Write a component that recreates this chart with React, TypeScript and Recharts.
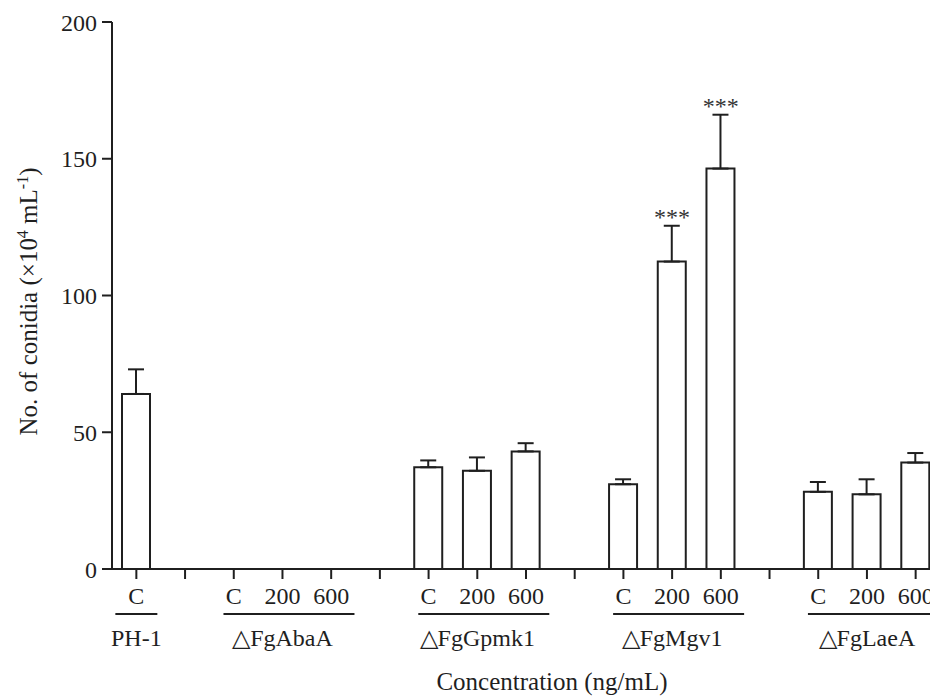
import React from 'react'
import { ComposedChart, Bar, Line, XAxis, YAxis, ErrorBar, Label } from 'recharts'

const categories = ['C', '', 'C', '200', '600', '', 'C', '200', '600', '', 'C', '200', '600', '', 'C', '200', '600']
const conidia = [64, 0, 0, 0, 0, 0, 37.2, 35.9, 43, 0, 31, 112.4, 146.4, 0, 28.2, 27.3, 38.9]
const sem = [9, 0, 0, 0, 0, 0, 2.5, 4.9, 3, 0, 1.8, 13.1, 19.7, 0, 3.6, 5.5, 3.5]
const significance = ['', '', '', '', '', '', '', '', '', '', '', '***', '***', '', '', '', '']
const groups = [
  { label: 'PH-1', first: 0, last: 0 },
  { label: '△FgAbaA', first: 2, last: 4 },
  { label: '△FgGpmk1', first: 6, last: 8 },
  { label: '△FgMgv1', first: 10, last: 12 },
  { label: '△FgLaeA', first: 14, last: 16 },
]
const yTicks = [0, 50, 100, 150, 200]

const FONT = '"Liberation Serif", "Times New Roman", serif'
const INK = '#1f1f1f'

const rows = categories.map((c, i) => ({
  id: i,
  label: c,
  value: conidia[i],
  err: [0, sem[i]],
  star: significance[i] ? conidia[i] + sem[i] : null,
}))

function CategoryTick(props: any) {
  const { x, y, index } = props
  const group = groups.find(g => Math.round((g.first + g.last) / 2) === index)
  const single = group && group.first === group.last
  return (
    <g>
      <text x={x} y={y + 25} textAnchor="middle" fontSize={24} fontFamily={FONT} fill={INK}>
        {categories[index]}
      </text>
      {group && (
        <>
          <line
            x1={x - (single ? 21 : 59)}
            x2={x + (single ? 21 : 72)}
            y1={y + 35}
            y2={y + 35}
            stroke={INK}
            strokeWidth={2}
          />
          <text x={x} y={y + 67} textAnchor="middle" fontSize={24} fontFamily={FONT} fill={INK}>
            {group.label}
          </text>
        </>
      )}
    </g>
  )
}

function YTitle(props: any) {
  const vb = props.viewBox
  const cx = 37
  const cy = vb.y + vb.height / 2 + 6
  return (
    <text
      x={cx}
      y={cy}
      transform={`rotate(-90, ${cx}, ${cy})`}
      textAnchor="middle"
      fontSize={25}
      fontFamily={FONT}
      fill={INK}
    >
      No. of conidia (×10
      <tspan dy={-9} fontSize={16}>4</tspan>
      <tspan dy={9}> mL</tspan>
      <tspan dy={-9} fontSize={16}>-1</tspan>
      <tspan dy={9}>)</tspan>
    </text>
  )
}

function XTitle(props: any) {
  const vb = props.viewBox
  return (
    <text x={552} y={vb.y + 121} textAnchor="middle" fontSize={25} fontFamily={FONT} fill={INK}>
      Concentration (ng/mL)
    </text>
  )
}

function Stars(props: any) {
  const { x, y, index } = props
  if (!significance[index] || y == null) return null
  return (
    <text x={x} y={y - 1} textAnchor="middle" fontSize={24} fontFamily={FONT} fill="#333">
      {significance[index]}
    </text>
  )
}

export default function App() {
  return (
    <div style={{ width: 930, height: 697, overflow: 'hidden', background: '#fff' }}>
      <style>{'body{margin:0;overflow:hidden}'}</style>
      <ComposedChart width={940} height={697} data={rows} margin={{ top: 22, right: 0, bottom: 0, left: 0 }}>
        <XAxis
          dataKey="id"
          height={128}
          interval={0}
          tickSize={10}
          tickMargin={0}
          tick={<CategoryTick />}
          axisLine={{ stroke: INK, strokeWidth: 2 }}
          tickLine={{ stroke: INK, strokeWidth: 2 }}
        >
          <Label content={<XTitle />} />
        </XAxis>
        <YAxis
          width={112}
          domain={[0, 200]}
          ticks={yTicks}
          tickSize={10}
          tickMargin={5}
          tick={{ fontSize: 24, fill: INK, fontFamily: FONT }}
          axisLine={{ stroke: INK, strokeWidth: 2 }}
          tickLine={{ stroke: INK, strokeWidth: 2 }}
        >
          <Label content={<YTitle />} />
        </YAxis>
        <Bar dataKey="value" barSize={28} fill="#fff" stroke={INK} strokeWidth={2} isAnimationActive={false}>
          <ErrorBar dataKey="err" width={8} stroke={INK} strokeWidth={2} direction="y" />
        </Bar>
        <Line
          dataKey="star"
          stroke="none"
          dot={false}
          activeDot={false}
          legendType="none"
          label={<Stars />}
          isAnimationActive={false}
        />
      </ComposedChart>
    </div>
  )
}
